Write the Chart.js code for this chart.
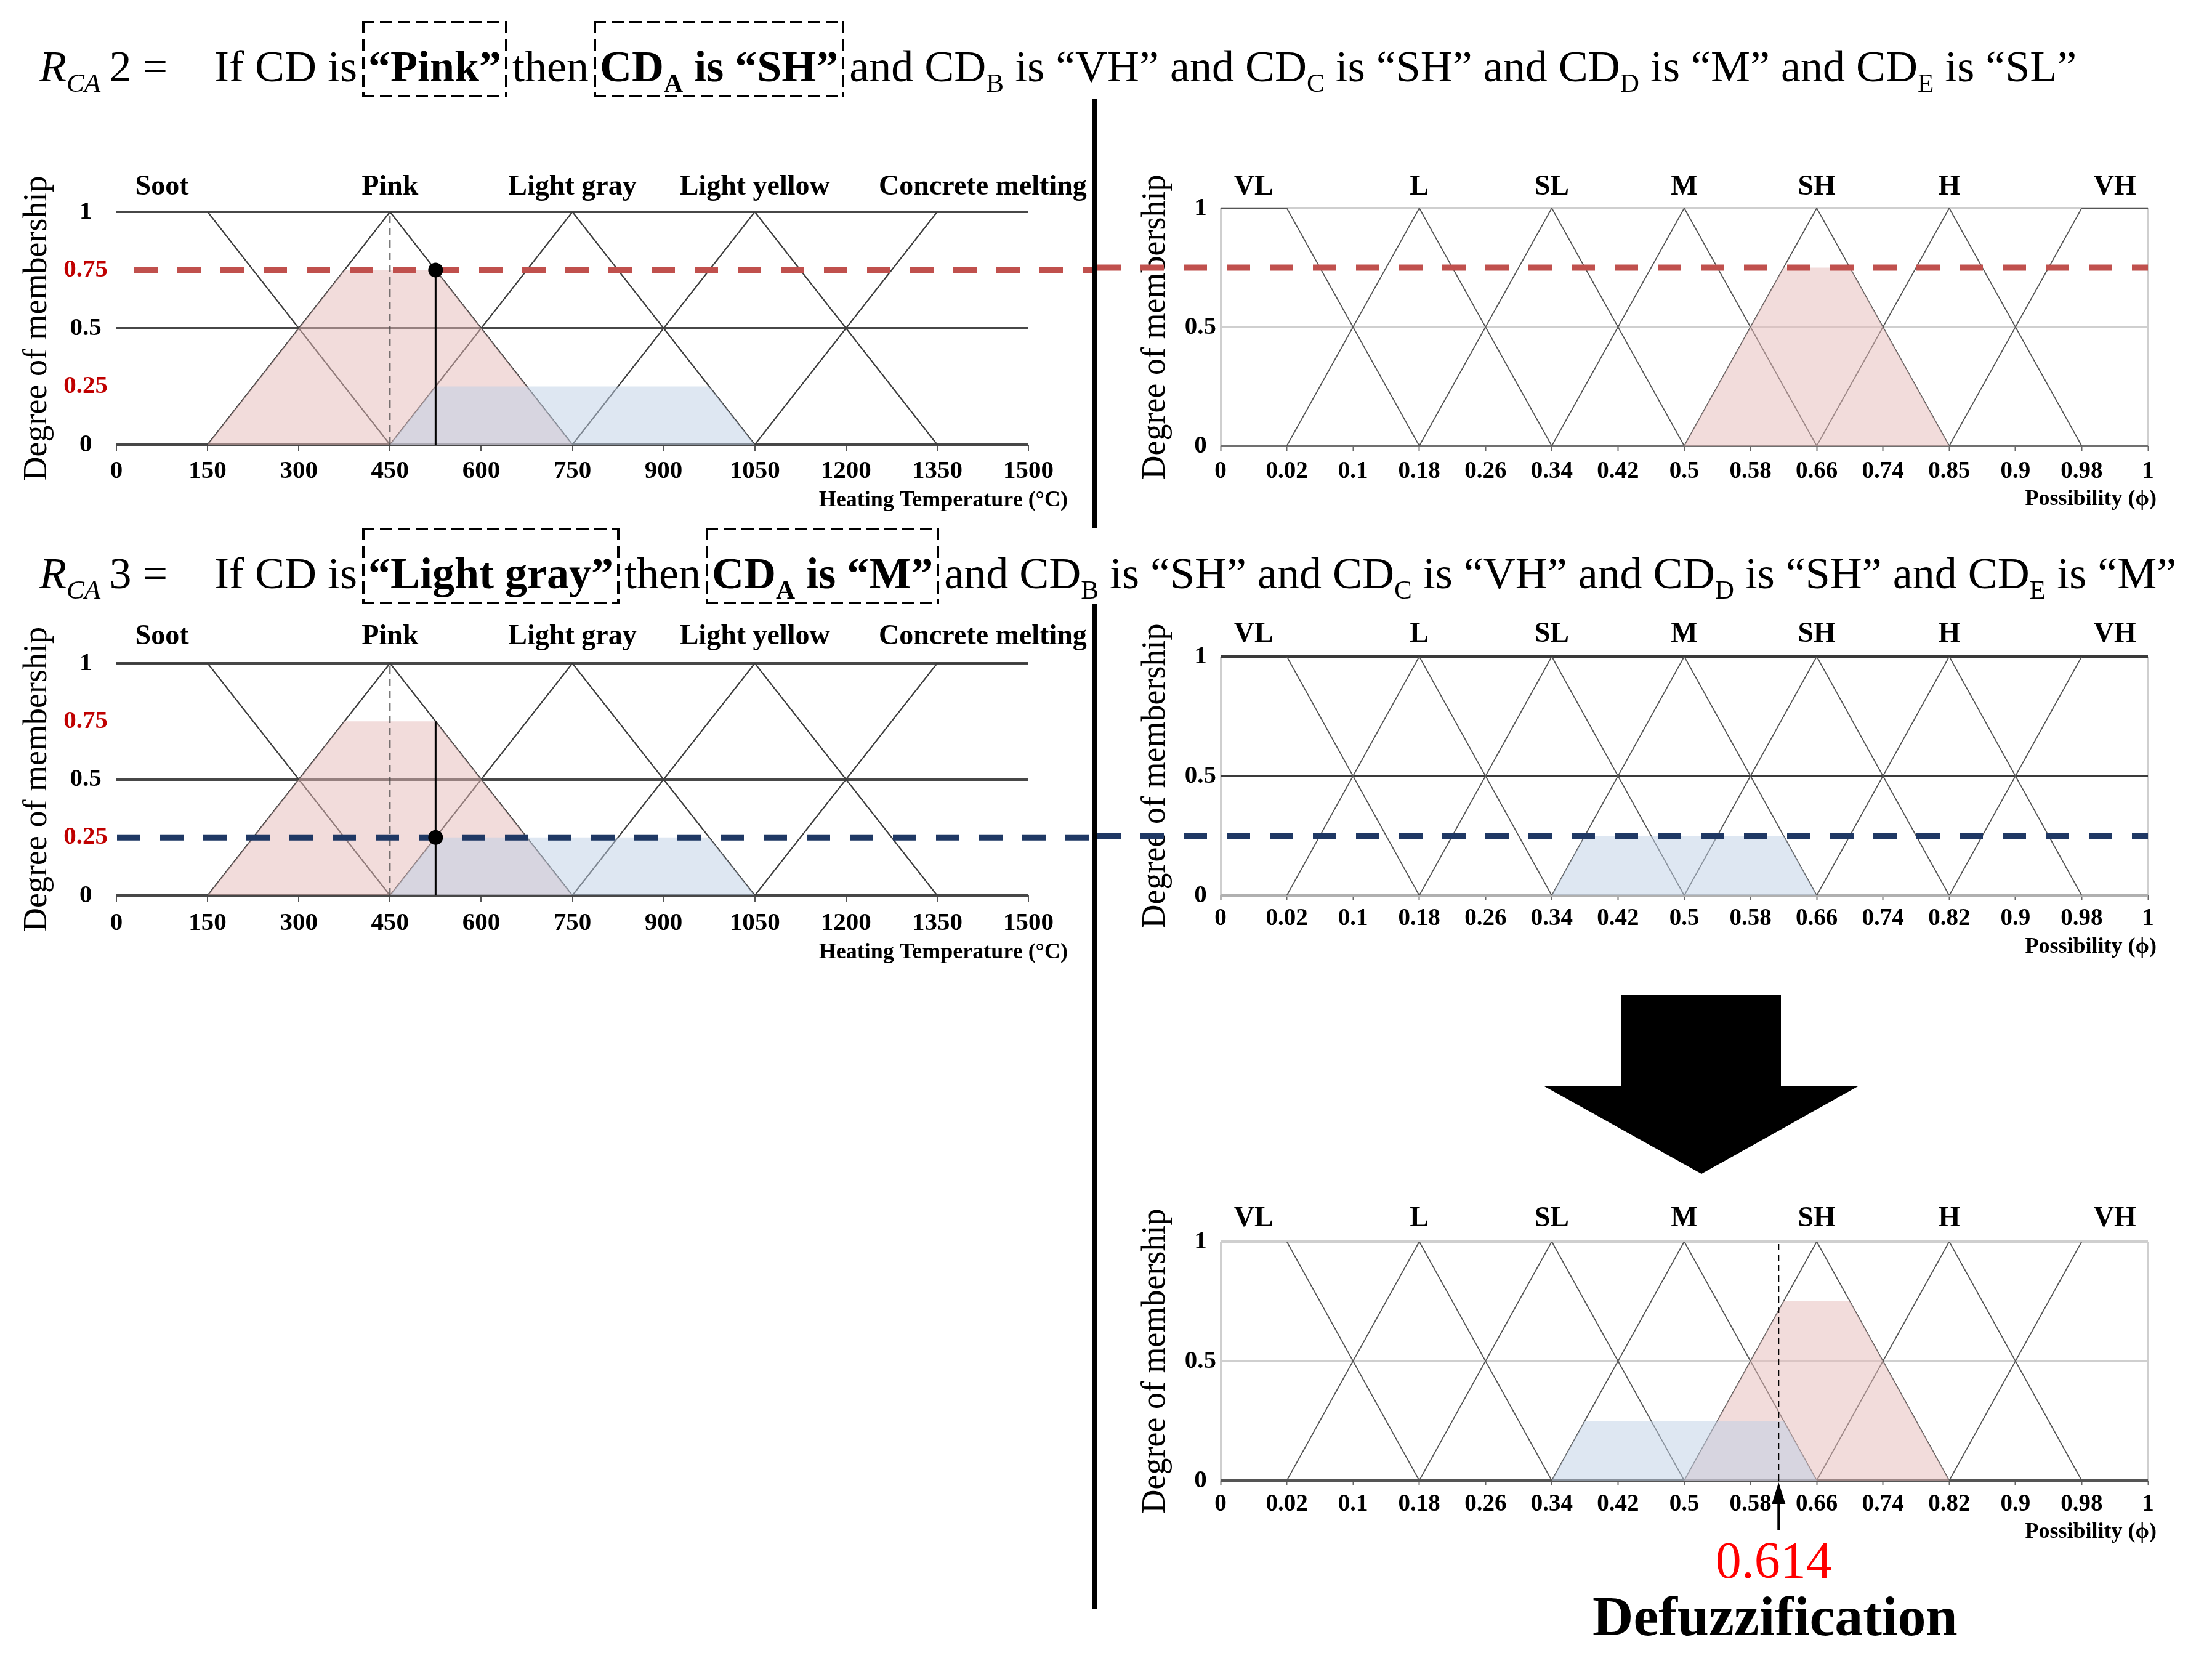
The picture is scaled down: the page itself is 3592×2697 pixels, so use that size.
<!DOCTYPE html>
<html>
<head>
<meta charset="utf-8">
<title>Fuzzy rule evaluation - CA2 / CA3</title>
<script src="https://cdn.jsdelivr.net/npm/chart.js@4.4.1/dist/chart.umd.min.js"></script>
<style>
  html, body { margin: 0; padding: 0; background: #fff; }
  #page { position: relative; width: 3592px; height: 2697px; overflow: hidden;
          font-family: "Liberation Serif", "Times New Roman", serif; color: #000; }
  #page canvas { position: absolute; }
  .rule { position: absolute; left: 64px; font-size: 72px; line-height: 72px;
          white-space: nowrap; background: #fff; }
  .rule .lhs { display: inline-block; width: 284px; }
  /* dashed frame drawn with gradients so the dash length matches the figure */
  .rule .box { display: inline-block; padding: 38px 10px 14px; margin: 0 8px; font-weight: bold;
    background:
      linear-gradient(to right, #000 68%, transparent 0) top left / 29px 4px repeat-x,
      linear-gradient(to right, #000 68%, transparent 0) bottom left / 29px 4px repeat-x,
      linear-gradient(to bottom, #000 68%, transparent 0) top left / 4px 29px repeat-y,
      linear-gradient(to bottom, #000 68%, transparent 0) top right / 4px 29px repeat-y; }
  .rule sub { font-size: 0.6em; vertical-align: -17px; line-height: 0; }
  #overlay { position: absolute; left: 0; top: 0; }
</style>
</head>
<body>
<div id="page">
  <canvas id="tl" width="1778" height="590" style="left:0;top:250px"></canvas>
  <canvas id="tr" width="1810" height="590" style="left:1782px;top:250px"></canvas>
  <canvas id="ml" width="1778" height="590" style="left:0;top:990px"></canvas>
  <canvas id="mr" width="1810" height="590" style="left:1782px;top:990px"></canvas>
  <canvas id="br" width="1810" height="767" style="left:1782px;top:1930px"></canvas>

  <svg id="overlay" width="3592" height="2697">
    <line x1="1778" y1="160" x2="1778" y2="2612" stroke="#000" stroke-width="8"/>
    <polygon points="2633,1616 2892,1616 2892,1764 3017,1764 2763,1906 2508,1764 2633,1764" fill="#000"/>
  </svg>

  <div class="rule" style="top:34px"><span class="lhs"><i>R</i><sub><i>CA</i></sub>&#8201;2 =</span>If CD is<span class="box">“Pink”</span>then<span class="box">CD<sub>A</sub> is “SH”</span>and CD<sub>B</sub> is “VH” and CD<sub>C</sub> is “SH” and CD<sub>D</sub> is “M” and CD<sub>E</sub> is “SL”</div>
  <div class="rule" style="top:857px"><span class="lhs"><i>R</i><sub><i>CA</i></sub>&#8201;3 =</span>If CD is<span class="box">“Light gray”</span>then<span class="box">CD<sub>A</sub> is “M”</span>and CD<sub>B</sub> is “SH” and CD<sub>C</sub> is “VH” and CD<sub>D</sub> is “SH” and CD<sub>E</sub> is “M”</div>
</div>

<script>
// ---- heating temperature side (input: colour of concrete) ----
const tempTicks = ['0', '150', '300', '450', '600', '750', '900', '1050', '1200', '1350', '1500'];
const tempTerms = ['Soot', 'Pink', 'Light gray', 'Light yellow', 'Concrete melting'];
const tempMF = [
  [[0, 1], [150, 1], [450, 0]],
  [[150, 0], [450, 1], [750, 0]],
  [[450, 0], [750, 1], [1050, 0]],
  [[750, 0], [1050, 1], [1350, 0]],
  [[1050, 0], [1350, 1], [1500, 1]]
];
const memTicksTemp = ['0', '0.25', '0.5', '0.75', '1'];
const memTicksPoss = ['0', '0.5', '1'];

// ---- possibility side (x = tick index, the ticks are evenly spaced) ----
const possTicksR2 = ['0', '0.02', '0.1', '0.18', '0.26', '0.34', '0.42', '0.5', '0.58', '0.66', '0.74', '0.85', '0.9', '0.98', '1'];
const possTicks   = ['0', '0.02', '0.1', '0.18', '0.26', '0.34', '0.42', '0.5', '0.58', '0.66', '0.74', '0.82', '0.9', '0.98', '1'];
const possTerms = ['VL', 'L', 'SL', 'M', 'SH', 'H', 'VH'];
const possMF = [
  [[0, 1], [1, 1], [3, 0]],
  [[1, 0], [3, 1], [5, 0]],
  [[3, 0], [5, 1], [7, 0]],
  [[5, 0], [7, 1], [9, 0]],
  [[7, 0], [9, 1], [11, 0]],
  [[9, 0], [11, 1], [13, 0]],
  [[11, 0], [13, 1], [14, 1]]
];

// ---- rule firing ----
const inputTemp = 525;
const pinkPeak = 450;
const fireR2 = 0.75;     // Pink
const fireR3 = 0.25;     // Light gray
const pinkCut = [[150, 0], [375, 0.75], [525, 0.75], [750, 0]];
const grayCut = [[450, 0], [525, 0.25], [975, 0.25], [1050, 0]];
const shCut = [[7, 0], [8.5, 0.75], [9.5, 0.75], [11, 0]];
const mCut = [[5, 0], [5.5, 0.25], [8.5, 0.25], [9, 0]];
const defuzz = 0.614;

const RED_FILL = 'rgba(230,185,184,0.5)';
const BLUE_FILL = 'rgba(190,208,230,0.5)';
const RED_GUIDE = '#C0504D';
const BLUE_GUIDE = '#1F3864';
const SERIF = '"Liberation Serif", "Times New Roman", serif';

Chart.defaults.font.family = SERIF;
Chart.defaults.color = '#000';

const pts = arr => arr.map(([x, y]) => ({ x, y }));
// label sits over the flat top (value 1) of each membership function
const plateauX = mf => {
  const top = mf.filter(p => p[1] === 1).map(p => p[0]);
  return top.reduce((s, v) => s + v, 0) / top.length;
};
// position of a possibility value on the evenly spaced tick axis
const possIndex = v => {
  const n = possTicks.map(Number);
  for (let i = 1; i < n.length; i++) {
    if (v <= n[i]) return i - 1 + (v - n[i - 1]) / (n[i] - n[i - 1]);
  }
  return n.length - 1;
};

const fillSet = (cut, color) => ({
  data: pts(cut), fill: 'origin', backgroundColor: color,
  borderColor: 'rgba(0,0,0,0)', borderWidth: 0
});

function drawGuide(chart, g) {
  const { ctx, chartArea: a, scales: { y } } = chart;
  const py = y.getPixelForValue(g.value);
  ctx.save();
  ctx.strokeStyle = g.color;
  ctx.lineWidth = 10;
  ctx.setLineDash([38, 32]);
  ctx.beginPath();
  ctx.moveTo(g.from, py);
  ctx.lineTo(g.toEnd ? chart.width : a.right, py);
  ctx.stroke();
  ctx.restore();
}

const deco = {
  id: 'deco',
  // on the temperature charts the guide goes under the crisp-input dot (dataset 0)
  beforeDatasetDraw(chart, args, o) {
    if (o.guide && o.guide.beforeDot && args.index === 0) drawGuide(chart, o.guide);
  },
  afterDatasetsDraw(chart, args, o) {
    if (o.guide && !o.guide.beforeDot) drawGuide(chart, o.guide);
  },
  afterDraw(chart, args, o) {
    const { ctx, chartArea: a, scales: { x, y } } = chart;
    ctx.save();
    ctx.fillStyle = '#000';
    ctx.textBaseline = 'middle';
    ctx.textAlign = 'center';
    ctx.font = 'bold 46px ' + SERIF;
    o.terms.forEach((t, i) => ctx.fillText(t, x.getPixelForValue(plateauX(o.mf[i])), a.top + o.termDy));
    ctx.font = 'bold 36px ' + SERIF;
    ctx.textAlign = 'right';
    ctx.fillText(o.xTitle, a.right + o.titleDx, a.bottom + o.titleDy);
    if (o.crisp) {
      const px = x.getPixelForValue(o.crisp.at);
      const py = y.getPixelForValue(0);
      ctx.strokeStyle = '#000';
      ctx.lineWidth = 4;
      ctx.beginPath();
      ctx.moveTo(px, py + 30);
      ctx.lineTo(px, py + 81);
      ctx.stroke();
      ctx.beginPath();
      ctx.moveTo(px, py + 3);
      ctx.lineTo(px - 11, py + 38);
      ctx.lineTo(px + 11, py + 38);
      ctx.closePath();
      ctx.fill();
      ctx.textAlign = 'center';
      ctx.fillStyle = '#FF0000';
      ctx.font = '84px ' + SERIF;
      ctx.fillText(o.crisp.value.toFixed(3), px - 8, a.bottom + 136);
      ctx.fillStyle = '#000';
      ctx.font = 'bold 92px ' + SERIF;
      ctx.fillText('Defuzzification', px - 6, a.bottom + 227);
    }
    ctx.restore();
  }
};

function fuzzyChart(id, o) {
  const temp = o.kind === 'temp';
  const mf = temp ? tempMF : possMF;
  const lineColor = temp ? '#3c3c3c' : '#555';
  const lineWidth = temp ? 2.2 : 1.8;
  const datasets = o.marks.concat(mf.map(m => ({
    data: pts(m), borderColor: lineColor, borderWidth: lineWidth, fill: false
  })));
  const yTicks = temp ? memTicksTemp : memTicksPoss;
  const xTicks = o.xTicks;
  return new Chart(document.getElementById(id), {
    type: 'line',
    data: { datasets },
    options: {
      responsive: false,
      animation: false,
      events: [],
      layout: { padding: { left: 0, top: o.top, right: o.right, bottom: 0 } },
      elements: { point: { radius: 0 }, line: { tension: 0 } },
      plugins: {
        legend: { display: false },
        tooltip: { enabled: false },
        deco: {
          terms: temp ? tempTerms : possTerms, mf, termDy: o.termDy,
          xTitle: temp ? 'Heating Temperature (°C)' : 'Possibility (ϕ)',
          titleDx: temp ? 64 : 14, titleDy: o.titleDy,
          guide: o.guide, crisp: o.crisp
        }
      },
      scales: {
        x: {
          type: 'linear', min: 0, max: temp ? 1500 : 14,
          ticks: {
            stepSize: temp ? 150 : 1, autoSkip: false, maxRotation: 0, minRotation: 0,
            padding: o.xPad, color: '#000', font: { size: temp ? 41 : 39, weight: 'bold' },
            callback: (v, i) => xTicks[i]
          },
          grid: temp
            ? { drawOnChartArea: false, tickLength: 10, tickColor: '#555', lineWidth: 2 }
            : {
                color: c => (c.tick && (c.tick.value === 0 || c.tick.value === 14)) ? '#cfcfcf' : 'rgba(0,0,0,0)',
                lineWidth: 3, tickLength: 8, tickColor: '#666', tickWidth: 2
              },
          border: { display: false },
          afterFit: s => { s.height = o.xh; s.paddingLeft = 0; s.paddingRight = 0; }
        },
        y: {
          min: 0, max: 1,
          ticks: {
            stepSize: temp ? 0.25 : 0.5, crossAlign: 'center', padding: temp ? 14 : 7,
            font: { size: 41, weight: 'bold' },
            color: c => (c.tick.value === 0.25 || c.tick.value === 0.75) ? '#C00000' : '#000',
            callback: (v, i) => yTicks[i]
          },
          grid: { drawTicks: false, lineWidth: 4, color: c => o.gridColors[c.tick.value] || 'rgba(0,0,0,0)' },
          border: { display: false },
          title: {
            display: true, text: 'Degree of membership', color: '#000',
            font: { size: 54 }, padding: { top: temp ? 28 : 62, bottom: 0 }
          },
          afterFit: s => { s.width = o.yw; s.paddingTop = 0; s.paddingBottom = 0; }
        }
      }
    },
    plugins: [deco]
  });
}

const tempGrid = { 0: '#474747', 0.5: '#474747', 1: '#474747' };
const tempMarks = level => [
  { data: pts([[inputTemp, level]]), showLine: false, pointRadius: 12, pointBackgroundColor: '#000', pointBorderWidth: 0 },
  { data: pts([[inputTemp, 0], [inputTemp, fireR2]]), borderColor: '#000', borderWidth: 3, fill: false },
  { data: pts([[pinkPeak, 0], [pinkPeak, 1]]), borderColor: '#444', borderWidth: 2, borderDash: [12, 8], fill: false },
  fillSet(grayCut, BLUE_FILL),
  fillSet(pinkCut, RED_FILL)
];

// rule 2: If CD is "Pink"
fuzzyChart('tl', {
  kind: 'temp', xTicks: tempTicks, marks: tempMarks(fireR2), gridColors: tempGrid,
  top: 94, right: 108, yw: 189, xh: 118, xPad: 9, termDy: -40, titleDy: 91,
  guide: { value: fireR2, color: RED_GUIDE, from: 218, toEnd: true, beforeDot: true }
});
fuzzyChart('tr', {
  kind: 'poss', xTicks: possTicksR2, marks: [fillSet(shCut, RED_FILL)],
  gridColors: { 0: '#707070', 0.5: '#cfcfcf', 1: '#cfcfcf' },
  top: 88, right: 104, yw: 200, xh: 116, xPad: 11, termDy: -34, titleDy: 87,
  guide: { value: fireR2, color: RED_GUIDE, from: 0, toEnd: false }
});

// rule 3: If CD is "Light gray"
fuzzyChart('ml', {
  kind: 'temp', xTicks: tempTicks, marks: tempMarks(fireR3), gridColors: tempGrid,
  top: 87, right: 108, yw: 189, xh: 126, xPad: 11, termDy: -43, titleDy: 93,
  guide: { value: fireR3, color: BLUE_GUIDE, from: 190, toEnd: true, beforeDot: true }
});
fuzzyChart('mr', {
  kind: 'poss', xTicks: possTicks, marks: [fillSet(mCut, BLUE_FILL)],
  gridColors: { 0: '#b0b0b0', 0.5: '#3a3a3a', 1: '#3a3a3a' },
  top: 76, right: 104, yw: 200, xh: 126, xPad: 7, termDy: -36, titleDy: 84,
  guide: { value: fireR3, color: BLUE_GUIDE, from: 0, toEnd: false }
});

// aggregated output and defuzzification
const defuzzAt = possIndex(defuzz);
fuzzyChart('br', {
  kind: 'poss', xTicks: possTicks,
  marks: [
    { data: pts([[defuzzAt, 0], [defuzzAt, 1]]), borderColor: '#000', borderWidth: 2, borderDash: [10, 7], fill: false },
    fillSet(mCut, BLUE_FILL),
    fillSet(shCut, RED_FILL)
  ],
  gridColors: { 0: '#555', 0.5: '#cfcfcf', 1: '#cfcfcf' },
  top: 86, right: 104, yw: 200, xh: 293, xPad: 8, termDy: -37, titleDy: 84,
  crisp: { value: defuzz, at: defuzzAt }
});
</script>
</body>
</html>
